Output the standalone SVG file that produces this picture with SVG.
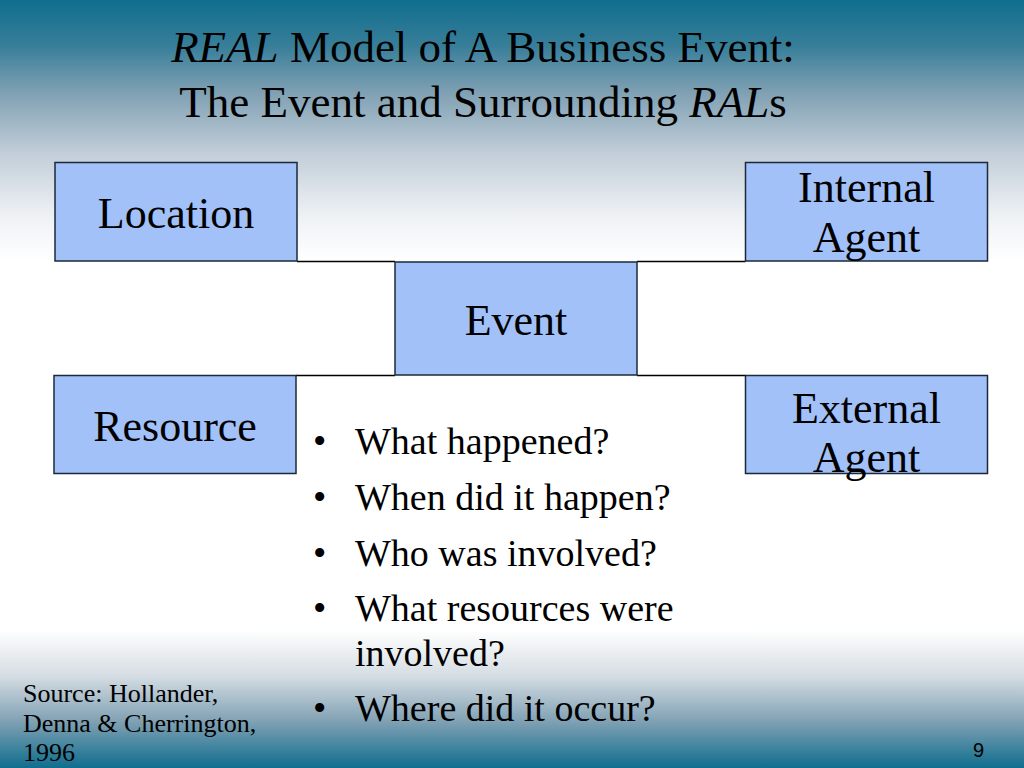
<svg xmlns="http://www.w3.org/2000/svg" width="1024" height="768" viewBox="0 0 1024 768">
<defs>
<linearGradient id="bg" x1="0" y1="0" x2="0" y2="1">
<stop offset="0" stop-color="#0f6e8e"/>
<stop offset="0.06" stop-color="#387e99"/>
<stop offset="0.12" stop-color="#7fa0b3"/>
<stop offset="0.2" stop-color="#c2ced8"/>
<stop offset="0.28" stop-color="#eef1f4"/>
<stop offset="0.34" stop-color="#ffffff"/>
<stop offset="0.82" stop-color="#ffffff"/>
<stop offset="0.88" stop-color="#d5dde3"/>
<stop offset="0.94" stop-color="#7fa0b3"/>
<stop offset="1" stop-color="#0f6e8e"/>
</linearGradient>
<style>
.box{fill:#a2c1f9;stroke:#1a2a3a;stroke-width:1.5}
.lbl{font-family:"Liberation Serif","Times New Roman",serif;font-size:44px;fill:#000;text-anchor:middle}
.conn{stroke:#000;stroke-width:1.5;fill:none}
.title{font-family:"Liberation Serif","Times New Roman",serif;font-size:45px;fill:#000;text-anchor:middle}
.bul{font-family:"Liberation Serif","Times New Roman",serif;font-size:38px;fill:#000}
.src{font-family:"Liberation Serif","Times New Roman",serif;font-size:26px;fill:#000}
</style>
</defs>
<rect x="0" y="0" width="1024" height="768" fill="url(#bg)"/>
<g id="title">
<text class="title" x="483" y="62"><tspan font-style="italic">REAL</tspan> Model of A Business Event:</text>
<text class="title" x="483" y="117">The Event and Surrounding <tspan font-style="italic">RAL</tspan>s</text>
</g>
<g id="connectors">
<line class="conn" x1="297" y1="261.5" x2="395" y2="261.5"/>
<line class="conn" x1="637" y1="261.5" x2="745.5" y2="261.5"/>
<line class="conn" x1="296" y1="375.5" x2="395" y2="375.5"/>
<line class="conn" x1="637" y1="375.5" x2="745.5" y2="375.5"/>
</g>
<g id="location">
<rect class="box" x="55" y="162.5" width="242" height="98.5"/>
<text class="lbl" x="176" y="228">Location</text>
</g>
<g id="internal-agent">
<rect class="box" x="745.5" y="162.5" width="242" height="98.5"/>
<text class="lbl" x="866.5" y="202">Internal</text>
<text class="lbl" x="866.5" y="252">Agent</text>
</g>
<g id="event">
<rect class="box" x="395" y="262" width="242" height="113"/>
<text class="lbl" x="516" y="335">Event</text>
</g>
<g id="resource">
<rect class="box" x="54" y="375.5" width="242" height="98"/>
<text class="lbl" x="175" y="441">Resource</text>
</g>
<g id="external-agent">
<rect class="box" x="745.5" y="375.5" width="242" height="98"/>
<text class="lbl" x="866.5" y="423">External</text>
<text class="lbl" x="866.5" y="472">Agent</text>
</g>
<g id="bullets">
<text class="bul" x="313" y="454">•</text><text class="bul" x="355" y="454">What happened?</text>
<text class="bul" x="313" y="510">•</text><text class="bul" x="355" y="510">When did it happen?</text>
<text class="bul" x="313" y="566">•</text><text class="bul" x="355" y="566">Who was involved?</text>
<text class="bul" x="313" y="621">•</text><text class="bul" x="355" y="621">What resources were</text>
<text class="bul" x="355" y="666">involved?</text>
<text class="bul" x="313" y="721">•</text><text class="bul" x="355" y="721">Where did it occur?</text>
</g>
<g id="source">
<text class="src" x="23" y="702">Source: Hollander,</text>
<text class="src" x="23" y="732">Denna &amp; Cherrington,</text>
<text class="src" x="23" y="761">1996</text>
</g>
<text x="973" y="757" font-family="Liberation Sans, Arial, sans-serif" font-size="20" fill="#000">9</text>
</svg>
